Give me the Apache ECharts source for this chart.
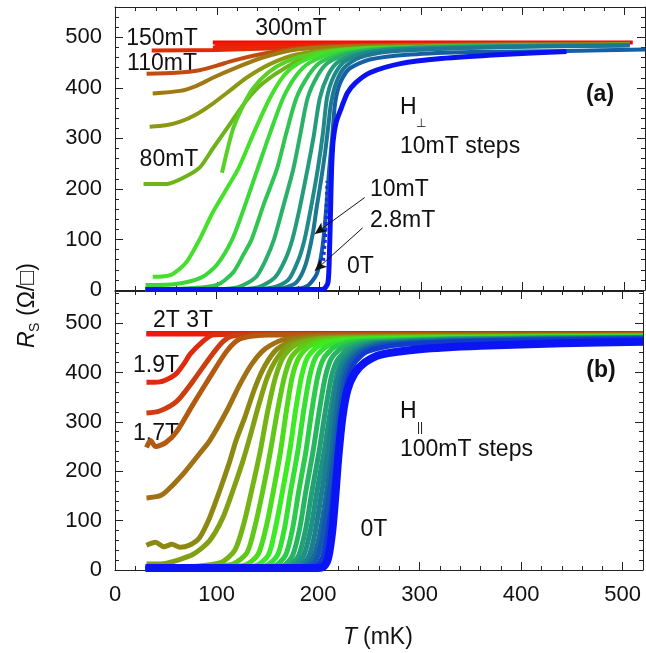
<!DOCTYPE html>
<html><head><meta charset="utf-8">
<script src="https://cdn.jsdelivr.net/npm/echarts@6/dist/echarts.min.js"></script>
<style>html,body{margin:0;padding:0;background:#fff}#c{width:646px;height:653px}</style>
</head><body><div id="c"></div>
<script>
// ---------- DATA: panel (a), perpendicular field, [T (mK), Rs (ohm/sq)] ----------
const a_300mT = [[96,490],[508,490]];
const a_150mT = [[98,487],[505,489]];
const a_140mT = [[98,484],[300,486],[505,488]];
const a_130mT = [[96,480],[150,481],[250,485],[505,487]];
const a_120mT = [[36,474],[100,475],[150,478],[200,482],[300,485],[505,487]];
const a_110mT = [[31,428],[60,430],[83,435],[100,444],[116,454],[149,469],[181,479],[240,484],[505,487]];
const a_100mT = [[37,389],[64,394],[80,404],[96,420],[119,440],[145,460],[178,476],[230,482],[320,485],[505,487]];
const a_90mT = [[34,323],[50,326],[64,333],[80,348],[96,369],[113,395],[129,420],[152,447],[178,466],[220,477],[300,482],[420,485],[505,486]];
const a_80mT = [[28,210],[51,210],[67,222],[83,242],[96,280],[113,329],[129,375],[145,409],[168,441],[194,465],[240,477],[320,482],[420,484],[505,486]];
const a_75mT = [[105,232],[110,275],[116,320],[125,362],[135,398],[150,430],[168,452],[195,468],[240,478],[340,482],[505,485]];
const a_70mT = [[37,26],[55,30],[70,55],[83,100],[95,150],[108,195],[121,240],[136,310],[152,380],[166,425],[181,450],[203,467],[250,477],[340,482],[505,485]];
const a_60mT = [[30,10],[60,12],[85,25],[100,50],[115,100],[128,170],[140,240],[152,310],[165,380],[178,425],[191,450],[212,467],[255,477],[340,482],[505,485]];
const a_50mT = [[30,2],[70,3],[100,10],[116,35],[126,70],[134,100],[146,170],[159,240],[168,310],[178,380],[190,425],[201,450],[222,467],[260,477],[340,482],[505,485]];
const a_40mT = [[30,1],[90,1],[120,5],[138,25],[148,60],[156,100],[165,165],[175,240],[182,310],[189,380],[199,425],[209,450],[228,467],[265,477],[340,482],[505,485]];
const a_30mT = [[30,1],[110,1],[140,5],[157,25],[167,60],[174,100],[181,160],[189,240],[195,305],[201,380],[209,425],[218,450],[235,466],[270,476],[340,481],[505,485]];
const a_20mT = [[30,1],[130,1],[155,5],[170,20],[180,60],[186,100],[192,160],[199,240],[204,310],[208,380],[214,420],[224,450],[240,466],[270,475],[340,480],[420,483],[505,485]];
const a_10mT = [[30,1],[140,1],[165,4],[178,15],[187,50],[194,111],[198,165],[202,215],[206,270],[209,320],[212,370],[217,410],[225,440],[240,460],[270,472],[330,478],[420,482],[505,484]];
const a_2p8mT = [[30,1],[150,1],[180,3],[190,10],[198,32],[202,65],[205,110],[208,180],[210,235],[213,300],[216,370],[221,410],[230,438],[250,456],[290,466],[350,471],[443,473],[520,476]];
const a_dotted = [[204,58],[206,100],[207.5,160],[208.5,216]];
const a_0T = [[30,1],[100,1],[200,1],[205,2],[209,15],[210.5,80],[211.5,160],[212.5,240],[214,295],[217,332],[222,360],[228,390],[236,410],[250,430],[280,448],[320,458],[380,466],[443,472]];

// ---------- DATA: panel (b), parallel field ----------
const b_3T = [[31,479],[520,479]];
const b_2T = [[31,478],[520,478]];
const b_1p9T = [[31,380],[44,381],[55,390],[61,399],[68,418],[74,437],[86,462],[96,476],[130,478],[520,478]];
const b_1p8T = [[31,318],[44,322],[61,342],[77,383],[93,429],[106,462],[116,474],[160,477],[520,477]];
const b_1p7T = [[31,248],[35,262],[40,250],[50,258],[61,281],[77,336],[93,389],[110,443],[123,468],[150,476],[520,477]];
const b_1p6T = [[31,146],[44,150],[51,160],[67,194],[83,235],[93,261],[110,322],[123,376],[135,418],[148,448],[165,466],[200,474],[520,476]];
const b_1p5T = [[31,50],[40,56],[48,47],[56,52],[64,46],[73,50],[83,65],[93,105],[103,160],[113,220],[119,261],[128,310],[138,370],[148,415],[160,448],[178,466],[220,472],[520,475]];
const b_1p4T = [[31,12],[51,14],[77,32],[93,59],[106,105],[116,160],[126,221],[133,270],[141,330],[150,390],[160,430],[172,456],[200,469],[340,473],[520,474]];
const b_1p3T = [[30,5],[75,7],[104,15],[118,40],[127,95],[135,165],[143,240],[150,318],[158,390],[166,432],[178,456],[205,468],[340,472],[520,474]];
const b_1p2T = [[30,4],[85,6],[116,12],[130,35],[138,90],[146,165],[153,240],[160,322],[167,392],[174,432],[186,455],[212,467],[340,472],[520,474]];
const b_1p1T = [[30,4],[95,5],[128,10],[141,32],[149,88],[156,160],[163,240],[169,325],[175,395],[182,433],[193,455],[218,466],[340,471],[520,473]];
const b_1p0T = [[30,3],[100,4],[138,8],[151,30],[158,85],[165,160],[172,240],[178,325],[184,395],[190,432],[201,454],[225,465],[340,470],[520,473]];
const b_0p9T = [[30,3],[110,4],[148,8],[160,30],[167,85],[173,160],[180,240],[186,325],[192,395],[198,432],[209,453],[232,464],[340,470],[520,472]];
const b_0p8T = [[30,3],[120,4],[157,8],[168,30],[175,85],[181,160],[188,240],[194,325],[200,395],[206,430],[217,452],[240,463],[340,469],[520,472]];
const b_0p7T = [[30,3],[130,4],[165,8],[175,30],[182,85],[188,160],[195,240],[201,320],[207,390],[213,428],[224,450],[248,462],[340,468],[520,471]];
const b_0p6T = [[30,3],[140,4],[171,8],[181,30],[188,85],[194,160],[201,240],[207,320],[213,390],[219,425],[230,448],[252,460],[340,468],[520,471]];
const b_0p5T = [[30,3],[140,4],[176,8],[186,30],[193,85],[199,160],[206,240],[212,320],[218,390],[224,425],[235,447],[258,460],[340,467],[520,471]];
const b_0p4T = [[30,3],[150,4],[182,8],[191,28],[197,75],[203,150],[210,240],[214,310],[219,380],[226,420],[238,445],[260,459],[340,466],[520,470]];
const b_0p3T = [[30,3],[150,4],[186,7],[195,24],[201,65],[206,125],[210,180],[214,242],[218,318],[223,385],[230,422],[242,445],[265,458],[340,465],[520,470]];
const b_0p2T = [[30,3],[150,3],[190,6],[198,20],[204,60],[209,125],[213,185],[217,245],[221,320],[226,385],[233,422],[245,444],[270,457],[350,464],[520,469]];
const b_0p1T = [[30,3],[150,3],[195,5],[202,15],[207,45],[212,110],[216,180],[220,250],[224,325],[229,385],[236,420],[248,442],[275,455],[350,463],[520,468]];
const b_0T = [[30,4],[120,4],[200,4],[206,8],[210,25],[214,80],[217,150],[220,230],[224,310],[229,365],[236,398],[246,420],[262,436],[300,447],[360,454],[440,459],[520,462]];

// tick labels
const xTicks = [0,100,200,300,400,500];
const yTicks = [0,100,200,300,400,500];

// ---------- STYLE ----------
const FONT = "'Liberation Sans', Arial, sans-serif";
const topSeries = [
  [a_300mT,'#ff0000',4],[a_150mT,'#f41406',4],[a_140mT,'#ee1c06',4],[a_130mT,'#e82408',4],[a_120mT,'#e02a08',4],
  [a_110mT,'#c24c10',4],[a_100mT,'#a07814',4],[a_90mT,'#8c9814',4],[a_80mT,'#6cb41a',4],[a_75mT,'#58d024',4],
  [a_70mT,'#44e02a',4],[a_60mT,'#3ad838',4],[a_50mT,'#30c450',4],[a_40mT,'#2ab068',4],[a_30mT,'#249c7c',4],
  [a_20mT,'#1f8a8a',4],[a_10mT,'#1b7890',4],[a_2p8mT,'#1560a4',4],[a_0T,'#0a12f2',5]
];
const botSeries = [
  [b_3T,'#ff0000',5],[b_2T,'#f21808',5],[b_1p9T,'#e02a10',5],[b_1p8T,'#cc3e10',5],[b_1p7T,'#b45a10',5],
  [b_1p6T,'#a07012',5],[b_1p5T,'#8c8812',5],[b_1p4T,'#82a012',5],[b_1p3T,'#74b414',5],[b_1p2T,'#60c818',5],
  [b_1p1T,'#4cdc1c',5],[b_1p0T,'#3cec22',5],[b_0p9T,'#34e030',5],[b_0p8T,'#2ccc48',5],[b_0p7T,'#26b660',5],
  [b_0p6T,'#22a274',5],[b_0p5T,'#1e9084',5],[b_0p4T,'#1a8090',5],[b_0p3T,'#186c9c',5],[b_0p2T,'#1456b4',5],
  [b_0p1T,'#103ccc',5],[b_0T,'#0a14f5',8]
];

const axLine = {lineStyle:{color:'#222',width:1}};
function xAx(grid, pos, labels){
  return {type:'value',gridIndex:grid,position:pos,min:0,max:520,interval:100,
    axisLine:{show:true,onZero:false,...axLine},
    axisTick:{show:true,inside:true,length:8,lineStyle:{color:'#222'}},
    minorTick:{show:true,splitNumber:5,length:4,lineStyle:{color:'#222'}},
    splitLine:{show:false},
    axisLabel:{show:labels,color:'#111',fontSize:22,fontFamily:FONT,margin:14,
      formatter:v=>xTicks.includes(v)?String(v):''}};
}
function yAx(grid, pos, labels, max){
  return {type:'value',gridIndex:grid,position:pos,min:0,max:max,interval:100,
    axisLine:{show:true,onZero:false,...axLine},
    axisTick:{show:true,inside:true,length:8,lineStyle:{color:'#222'}},
    minorTick:{show:true,splitNumber:5,length:4,lineStyle:{color:'#222'}},
    splitLine:{show:false},
    axisLabel:{show:labels,color:'#111',fontSize:22,fontFamily:FONT,margin:13,
      formatter:v=>yTicks.includes(v)?String(v):''}};
}

const series = [];
topSeries.forEach(([d,c,w])=>series.push({type:'line',xAxisIndex:0,yAxisIndex:0,data:d,showSymbol:false,
  smooth:0.25,lineStyle:{color:c,width:w},silent:true}));
series.push({type:'line',xAxisIndex:0,yAxisIndex:0,data:a_dotted,showSymbol:false,
  lineStyle:{color:'#1a30e0',width:4,type:[3,3]},silent:true});
botSeries.forEach(([d,c,w])=>series.push({type:'line',xAxisIndex:2,yAxisIndex:2,data:d,showSymbol:false,
  smooth:0.25,lineStyle:{color:c,width:w},silent:true}));
// arrows (annotation) in data coordinates
series.push({type:'line',xAxisIndex:0,yAxisIndex:0,data:[],silent:true,
  markLine:{silent:true,symbol:['none','arrow'],symbolSize:[8,12],label:{show:false},
    lineStyle:{color:'#111',width:1,type:'solid'},
    data:[[{coord:[245,183]},{coord:[196,111]}],[{coord:[243,123]},{coord:[196,38]}]]}});

function txt(x,y,text,opt){
  return Object.assign({type:'text',x:x,y:y,silent:true,
    style:Object.assign({text:text,fill:'#111',fontSize:23,fontFamily:FONT,textAlign:'center',textVerticalAlign:'middle'},opt||{})});
}
const L = {textAlign:'left'};
const graphic = [
  txt(162,39,'150mT'), txt(162,64,'110mT'), txt(291,29,'300mT'), txt(169,160,'80mT'),
  txt(600,95,'(a)',{fontWeight:'bold'}),
  txt(400,108,'H',L), txt(416,124,'⊥',{textAlign:'left',fontSize:12}),
  txt(400,147,'10mT steps',L),
  txt(370,190,'10mT',L), txt(370,221,'2.8mT',L), txt(347,267,'0T',L),
  txt(183,321,'2T 3T'), txt(156,366,'1.9T'), txt(156,434,'1.7T'),
  txt(601,371,'(b)',{fontWeight:'bold'}),
  txt(400,412,'H',L), txt(417,428,'||',{textAlign:'left',fontSize:12}),
  txt(400,450,'100mT steps',L),
  txt(374,530,'0T'),
  txt(343,638,'T',{textAlign:'left',fontStyle:'italic'}), txt(363,638,'(mK)',L),
  {type:'group',x:28,y:294,rotation:Math.PI/2,silent:true,children:[
    {type:'text',x:-54,y:0,style:{text:'R',fill:'#111',fontSize:23,fontStyle:'italic',fontFamily:FONT,textAlign:'left',textVerticalAlign:'middle'}},
    {type:'text',x:-38,y:7,style:{text:'S',fill:'#111',fontSize:14,fontFamily:FONT,textAlign:'left',textVerticalAlign:'middle'}},
    {type:'text',x:-22,y:0,style:{text:'(Ω/□)',fill:'#111',fontSize:23,fontFamily:FONT,textAlign:'left',textVerticalAlign:'middle'}}
  ]}
];

const chart = echarts.init(document.getElementById('c'),null,{renderer:'canvas'});
chart.setOption({
  animation:false,
  backgroundColor:'#fff',
  grid:[{left:115,top:7,width:530,height:283},{left:115,top:291,width:530,height:279}],
  xAxis:[xAx(0,'bottom',false),xAx(0,'top',false),xAx(1,'bottom',true),xAx(1,'top',false)],
  yAxis:[yAx(0,'left',true,560),yAx(0,'right',false,560),yAx(1,'left',true,565),yAx(1,'right',false,565)],
  series:series,
  graphic:graphic
});
</script></body></html>
